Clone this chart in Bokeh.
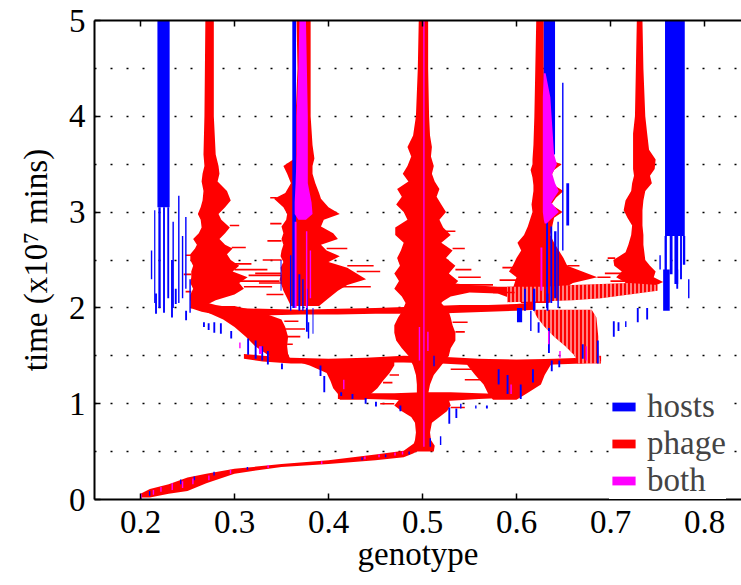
from math import pi
from bokeh.plotting import figure
from bokeh.models import Range1d, LinearAxis, FixedTicker, Legend, LegendItem
from bokeh.embed import file_html
from bokeh.resources import INLINE

# ---------------- axes ----------------
X_TICKS = [0.2, 0.3, 0.4, 0.5, 0.6, 0.7, 0.8]
Y_TICKS = [0, 1, 2, 3, 4, 5]
GRID_Y = [0.5, 1.0, 1.5, 2.0, 2.5, 3.0, 3.5, 4.0, 4.5]

# ---------------- phage (red) vertical branches: time, left genotype, right genotype -------------
P1_Y = [5.00, 4.00, 3.60, 3.48, 3.40, 3.32, 3.22, 3.12, 3.05, 2.98, 2.92, 2.84, 2.78, 2.72, 2.66, 2.62, 2.56, 2.50, 2.44, 2.38, 2.32, 2.26, 2.20, 2.14, 2.08, 2.03]
P1_L = [0.269, 0.268, 0.267, 0.268, 0.266, 0.265, 0.267, 0.266, 0.264, 0.261, 0.264, 0.265, 0.262, 0.256, 0.260, 0.258, 0.253, 0.253, 0.256, 0.254, 0.254, 0.253, 0.256, 0.253, 0.253, 0.256]
P1_R = [0.278, 0.278, 0.280, 0.283, 0.284, 0.282, 0.292, 0.296, 0.290, 0.283, 0.286, 0.295, 0.290, 0.284, 0.290, 0.298, 0.292, 0.296, 0.305, 0.298, 0.314, 0.305, 0.310, 0.300, 0.280, 0.270]

P2_Y = [5.00, 4.50, 4.00, 3.70, 3.56, 3.48, 3.40, 3.30, 3.20, 3.14, 3.05, 2.98, 2.92, 2.85, 2.78, 2.72, 2.66, 2.60, 2.54, 2.48, 2.42, 2.36, 2.30, 2.24, 2.18, 2.10, 2.02]
P2_L = [0.366, 0.367, 0.365, 0.364, 0.364, 0.352, 0.356, 0.360, 0.354, 0.342, 0.352, 0.356, 0.355, 0.350, 0.352, 0.350, 0.352, 0.350, 0.349, 0.352, 0.349, 0.350, 0.348, 0.350, 0.352, 0.356, 0.360]
P2_R = [0.381, 0.381, 0.381, 0.383, 0.385, 0.383, 0.383, 0.386, 0.390, 0.392, 0.400, 0.412, 0.395, 0.392, 0.405, 0.410, 0.392, 0.398, 0.412, 0.400, 0.420, 0.430, 0.440, 0.420, 0.410, 0.400, 0.390]

P3_Y = [5.00, 4.50, 4.00, 3.80, 3.68, 3.58, 3.48, 3.40, 3.32, 3.24, 3.16, 3.08, 3.00, 2.92, 2.84, 2.76, 2.68, 2.60, 2.52, 2.44, 2.36, 2.28, 2.20, 2.12, 2.05, 1.96, 1.90, 1.82, 1.74, 1.66, 1.58, 1.50, 1.40, 1.30, 1.20, 1.10]
P3_L = [0.496, 0.495, 0.493, 0.490, 0.484, 0.488, 0.484, 0.479, 0.485, 0.473, 0.478, 0.472, 0.480, 0.484, 0.471, 0.471, 0.480, 0.477, 0.473, 0.476, 0.470, 0.475, 0.470, 0.478, 0.482, 0.478, 0.474, 0.470, 0.470, 0.472, 0.478, 0.485, 0.490, 0.493, 0.494, 0.494]
P3_R = [0.506, 0.506, 0.507, 0.508, 0.510, 0.509, 0.512, 0.510, 0.513, 0.518, 0.515, 0.520, 0.525, 0.518, 0.522, 0.530, 0.520, 0.532, 0.525, 0.535, 0.528, 0.538, 0.530, 0.525, 0.520, 0.528, 0.530, 0.532, 0.535, 0.535, 0.530, 0.528, 0.520, 0.512, 0.508, 0.506]

P4_Y = [5.00, 4.50, 4.00, 3.70, 3.55, 3.50, 3.44, 3.36, 3.28, 3.22, 3.15, 3.08, 3.00, 2.94, 2.85, 2.76, 2.68, 2.60, 2.52, 2.44, 2.38, 2.32, 2.26, 2.20, 2.12, 2.05]
P4_L = [0.621, 0.620, 0.619, 0.618, 0.617, 0.617, 0.615, 0.617, 0.618, 0.618, 0.617, 0.616, 0.617, 0.615, 0.612, 0.608, 0.601, 0.605, 0.600, 0.596, 0.592, 0.600, 0.598, 0.596, 0.600, 0.605]
P4_R = [0.629, 0.629, 0.630, 0.631, 0.634, 0.648, 0.640, 0.636, 0.640, 0.650, 0.642, 0.637, 0.649, 0.640, 0.638, 0.636, 0.640, 0.645, 0.650, 0.654, 0.670, 0.686, 0.660, 0.650, 0.640, 0.635]

P5_Y = [5.00, 4.50, 4.00, 3.82, 3.65, 3.55, 3.45, 3.38, 3.30, 3.22, 3.12, 3.02, 2.94, 2.86, 2.76, 2.66, 2.58, 2.50, 2.44, 2.38, 2.32, 2.27, 2.22, 2.18]
P5_L = [0.728, 0.727, 0.726, 0.724, 0.724, 0.724, 0.724, 0.725, 0.723, 0.722, 0.716, 0.714, 0.718, 0.723, 0.722, 0.719, 0.716, 0.703, 0.704, 0.712, 0.706, 0.715, 0.720, 0.725]
P5_R = [0.734, 0.735, 0.737, 0.739, 0.741, 0.748, 0.747, 0.742, 0.744, 0.737, 0.735, 0.734, 0.734, 0.734, 0.735, 0.735, 0.736, 0.737, 0.742, 0.748, 0.746, 0.756, 0.745, 0.732]

TR_Y = [0.50, 0.56, 0.62, 0.70, 0.80, 0.86, 0.92, 0.98, 1.04, 1.10]
TR_L = [0.488, 0.490, 0.492, 0.493, 0.492, 0.488, 0.478, 0.470, 0.475, 0.490]
TR_R = [0.512, 0.513, 0.509, 0.508, 0.510, 0.518, 0.526, 0.530, 0.528, 0.520]

LB_Y = [1.04, 1.10, 1.16, 1.24, 1.32, 1.40, 1.46]
LB_L = [0.412, 0.410, 0.405, 0.402, 0.398, 0.380, 0.360]
LB_R = [0.440, 0.445, 0.452, 0.458, 0.465, 0.470, 0.470]

RB_Y = [1.04, 1.10, 1.20, 1.30, 1.40, 1.46]
RB_L = [0.575, 0.570, 0.565, 0.556, 0.548, 0.545]
RB_R = [0.600, 0.610, 0.626, 0.630, 0.636, 0.640]

LF_Y = [1.45, 1.52, 1.60, 1.70, 1.80, 1.88, 1.95, 2.02]
LF_L = [0.342, 0.334, 0.322, 0.312, 0.300, 0.288, 0.272, 0.258]
LF_R = [0.360, 0.357, 0.356, 0.357, 0.354, 0.350, 0.330, 0.300]

RF_Y = [1.42, 1.50, 1.60, 1.70, 1.80, 1.90, 1.98]
RF_L = [0.665, 0.662, 0.652, 0.640, 0.630, 0.622, 0.618]
RF_R = [0.690, 0.688, 0.687, 0.687, 0.686, 0.685, 0.680]

# ---------------- phage (red) horizontal bands: genotype, lower time, upper time ----------------
B0_X = [0.200, 0.210, 0.230, 0.250, 0.270, 0.300, 0.350, 0.400, 0.450, 0.480, 0.490, 0.497]
B0_B = [0.02, 0.02, 0.06, 0.09, 0.17, 0.27, 0.34, 0.37, 0.41, 0.44, 0.48, 0.52]
B0_T = [0.06, 0.11, 0.16, 0.23, 0.27, 0.32, 0.37, 0.41, 0.47, 0.51, 0.58, 0.62]

C1_X = [0.410, 0.440, 0.470, 0.500, 0.530, 0.560, 0.585]
C1_B = [1.05, 1.05, 1.04, 1.02, 1.03, 1.05, 1.06]
C1_T = [1.10, 1.11, 1.11, 1.12, 1.12, 1.11, 1.10]

C15_X = [0.310, 0.330, 0.360, 0.400, 0.440, 0.480, 0.520, 0.560, 0.600, 0.640, 0.670, 0.690]
C15_B = [1.47, 1.44, 1.42, 1.42, 1.43, 1.43, 1.42, 1.40, 1.40, 1.41, 1.42, 1.44]
C15_T = [1.52, 1.50, 1.48, 1.47, 1.48, 1.50, 1.49, 1.47, 1.46, 1.47, 1.48, 1.50]

C2_X = [0.253, 0.265, 0.280, 0.300, 0.330, 0.370, 0.410, 0.450, 0.480, 0.510, 0.540, 0.570, 0.600, 0.620]
C2_B = [2.00, 1.96, 1.93, 1.92, 1.92, 1.93, 1.93, 1.94, 1.94, 1.94, 1.95, 1.96, 1.97, 1.98]
C2_T = [2.14, 2.07, 2.03, 2.00, 1.99, 1.98, 1.99, 2.00, 2.01, 2.02, 2.03, 2.03, 2.04, 2.06]

C2A_X = [0.510, 0.530, 0.550, 0.580, 0.600]
C2A_B = [2.00, 2.12, 2.16, 2.15, 2.08]
C2A_T = [2.30, 2.26, 2.24, 2.22, 2.22]

C2B_X = [0.590, 0.630, 0.660, 0.690, 0.720, 0.750]
C2B_B = [2.06, 2.07, 2.08, 2.10, 2.14, 2.18]
C2B_T = [2.22, 2.22, 2.24, 2.25, 2.26, 2.24]

# ---------------- phage streaks: time, from, to ----------------
ST_Y = [2.46, 2.40, 2.34, 2.28, 2.22, 2.63, 2.86, 2.55, 2.35, 2.17,
        3.15, 2.88, 2.70, 2.50, 2.36, 2.26, 2.14, 2.44, 2.38, 2.22, 2.62,
        2.40, 2.32, 2.24, 2.62, 2.80, 2.42, 2.29, 2.16, 2.44, 2.32,
        2.52, 2.36, 2.28, 1.70, 1.78, 1.62, 1.86, 1.75, 1.85, 1.30, 1.22, 1.36, 1.25, 0.96, 1.00]
ST_X0 = [0.300, 0.300, 0.315, 0.305, 0.310, 0.297, 0.295, 0.248, 0.246, 0.248,
         0.338, 0.338, 0.335, 0.330, 0.322, 0.326, 0.334, 0.420, 0.430, 0.410, 0.398,
         0.535, 0.538, 0.530, 0.532, 0.522, 0.585, 0.582, 0.575, 0.654, 0.686,
         0.697, 0.694, 0.700, 0.356, 0.354, 0.356, 0.353, 0.535, 0.532, 0.465, 0.458, 0.530, 0.545, 0.530, 0.455]
ST_X1 = [0.318, 0.335, 0.350, 0.348, 0.340, 0.312, 0.305, 0.254, 0.254, 0.254,
         0.345, 0.350, 0.350, 0.350, 0.350, 0.350, 0.352, 0.448, 0.455, 0.445, 0.420,
         0.552, 0.562, 0.575, 0.545, 0.535, 0.596, 0.600, 0.598, 0.667, 0.700,
         0.705, 0.712, 0.715, 0.370, 0.375, 0.362, 0.368, 0.545, 0.548, 0.475, 0.468, 0.556, 0.565, 0.545, 0.470]

# ---------------- hosts (blue) bars: genotype from/to, time from/to ----------------
H_X0 = [0.2180, 0.3615, 0.6290, 0.6315, 0.6360, 0.6400, 0.6435, 0.7580,
        0.2145, 0.2190, 0.2240, 0.2285, 0.2400, 0.2520, 0.2110, 0.2340, 0.2440, 0.2475,
        0.3590, 0.3680, 0.3720, 0.3760, 0.3830, 0.3490, 0.3780,
        0.6485, 0.6530, 0.6080, 0.6180, 0.6320,
        0.7575, 0.7630, 0.7680, 0.7740, 0.7770, 0.7520, 0.7825,
        0.2155, 0.2325, 0.2365, 0.2475, 0.2665, 0.2715, 0.2775, 0.2845, 0.2955, 0.3135, 0.3215,
        0.3285, 0.3345, 0.3495, 0.3905, 0.3945, 0.4125, 0.4245, 0.4385, 0.4495, 0.4755,
        0.5275, 0.5350, 0.5400, 0.5560, 0.5675, 0.5800, 0.5895, 0.6035, 0.6165, 0.6365, 0.6445,
        0.6695, 0.6855, 0.7025, 0.7075, 0.7155, 0.7280, 0.7380, 0.6005, 0.6145, 0.6175, 0.6225,
        0.6335, 0.5115, 0.7560, 0.7700,
        0.2090, 0.2420, 0.2565, 0.2775, 0.3130, 0.4350, 0.4600, 0.4850, 0.5075, 0.5185]
H_X1 = [0.2310, 0.3655, 0.6410, 0.6335, 0.6380, 0.6425, 0.6450, 0.7790,
        0.2158, 0.2215, 0.2260, 0.2305, 0.2415, 0.2535, 0.2125, 0.2355, 0.2455, 0.2490,
        0.3605, 0.3700, 0.3735, 0.3780, 0.3840, 0.3500, 0.3795,
        0.6500, 0.6560, 0.6100, 0.6200, 0.6340,
        0.7600, 0.7660, 0.7720, 0.7760, 0.7795, 0.7535, 0.7840,
        0.2175, 0.2345, 0.2385, 0.2495, 0.2685, 0.2735, 0.2795, 0.2865, 0.2975, 0.3155, 0.3235,
        0.3305, 0.3365, 0.3515, 0.3925, 0.3965, 0.4145, 0.4265, 0.4405, 0.4515, 0.4775,
        0.5295, 0.5370, 0.5415, 0.5575, 0.5695, 0.5820, 0.5915, 0.6055, 0.6185, 0.6385, 0.6465,
        0.6715, 0.6875, 0.7045, 0.7095, 0.7170, 0.7300, 0.7400, 0.6060, 0.6160, 0.6190, 0.6245,
        0.6355, 0.5130, 0.7630, 0.7720,
        0.2105, 0.2435, 0.2580, 0.2790, 0.3145, 0.4365, 0.4615, 0.4865, 0.5090, 0.5200]
H_Y0 = [3.05, 2.00, 3.60, 2.00, 2.05, 2.10, 2.00, 2.75,
        2.05, 2.00, 1.95, 2.10, 2.05, 1.95, 2.30, 2.00, 2.10, 2.20,
        1.97, 1.97, 1.97, 1.75, 1.73, 2.18, 1.68,
        2.60, 2.86, 1.97, 1.97, 1.97,
        2.12, 2.35, 2.25, 2.30, 2.45, 2.40, 2.10,
        1.94, 1.90, 2.04, 1.87, 1.80, 1.77, 1.74, 1.73, 1.68, 1.51, 1.47,
        1.45, 1.41, 1.36, 1.29, 1.12, 1.08, 1.05, 1.00, 0.97, 0.92,
        0.79, 0.85, 0.95, 0.95, 0.95, 1.20, 1.10, 1.05, 1.22, 1.34, 1.38,
        1.47, 1.42, 1.70, 1.76, 1.80, 1.85, 1.88, 1.85, 1.76, 1.97, 1.74,
        1.53, 1.39, 1.97, 2.20,
        0.04, 0.16, 0.20, 0.25, 0.31, 0.41, 0.44, 0.47, 0.55, 0.57]
H_Y1 = [5.00, 5.00, 5.00, 2.90, 2.85, 2.80, 2.90, 5.00,
        3.02, 3.05, 3.05, 3.05, 3.17, 2.30, 2.60, 2.90, 2.75, 2.95,
        2.55, 2.35, 2.30, 2.20, 2.00, 2.50, 1.85,
        4.35, 3.30, 2.20, 2.20, 2.15,
        2.75, 2.75, 2.75, 2.75, 2.75, 2.55, 2.30,
        2.15, 2.50, 2.20, 1.97, 1.85, 1.84, 1.85, 1.84, 1.76, 1.68, 1.66,
        1.60, 1.55, 1.42, 1.40, 1.29, 1.12, 1.10, 1.06, 1.02, 0.98,
        0.96, 0.95, 1.00, 0.98, 0.98, 1.36, 1.30, 1.20, 1.36, 1.45, 1.45,
        1.62, 1.66, 1.86, 1.85, 1.86, 2.00, 2.00, 2.00, 1.97, 2.20, 1.85,
        1.79, 1.50, 2.40, 2.40,
        0.09, 0.21, 0.24, 0.29, 0.34, 0.44, 0.47, 0.50, 0.64, 0.66]

# ---------------- both (magenta) ----------------
M2_Y = [5.00, 4.50, 4.00, 3.60, 3.30, 3.10, 2.98, 2.92]
M2_L = [0.369, 0.368, 0.366, 0.366, 0.365, 0.364, 0.364, 0.368]
M2_R = [0.376, 0.377, 0.378, 0.378, 0.378, 0.382, 0.383, 0.376]

M4_Y = [4.45, 4.20, 3.90, 3.60, 3.50, 3.40, 3.30, 3.22, 3.10, 3.00, 2.92, 2.88]
M4_L = [0.629, 0.628, 0.628, 0.628, 0.628, 0.628, 0.628, 0.628, 0.628, 0.628, 0.629, 0.630]
M4_R = [0.631, 0.636, 0.638, 0.640, 0.643, 0.638, 0.641, 0.645, 0.637, 0.645, 0.636, 0.632]

MG_X0 = [0.5008, 0.3640, 0.3760, 0.3800, 0.6255,
         0.2000, 0.2130, 0.2210, 0.2330, 0.2440, 0.2550, 0.2720, 0.2950, 0.3350, 0.3920, 0.4380, 0.4530, 0.4700, 0.4780,
         0.3050, 0.3260, 0.4155, 0.4960, 0.5050, 0.5935, 0.6335, 0.6455, 0.6735]
MG_X1 = [0.5022, 0.3660, 0.3775, 0.3815, 0.6275,
         0.2015, 0.2145, 0.2225, 0.2345, 0.2455, 0.2565, 0.2735, 0.2965, 0.3365, 0.3935, 0.4395, 0.4545, 0.4715, 0.4795,
         0.3065, 0.3290, 0.4170, 0.4975, 0.5065, 0.5950, 0.6350, 0.6470, 0.6750]
MG_Y0 = [0.55, 2.00, 2.00, 2.10, 2.18,
         0.00, 0.05, 0.08, 0.10, 0.12, 0.16, 0.20, 0.27, 0.33, 0.37, 0.42, 0.44, 0.46, 0.47,
         1.58, 1.52, 1.15, 1.45, 1.55, 1.10, 1.62, 1.48, 1.45]
MG_Y1 = [5.00, 2.90, 2.80, 2.60, 2.63,
         0.06, 0.10, 0.13, 0.17, 0.19, 0.22, 0.25, 0.31, 0.36, 0.40, 0.45, 0.47, 0.49, 0.50,
         1.64, 1.60, 1.25, 1.80, 1.75, 1.20, 1.76, 1.55, 1.60]

LEGEND_LABELS = ["hosts", "phage", "both"]

BLUE, RED, MAG = "#0000ff", "#ff0000", "#ff00ff"
FONT = "Liberation Serif"
FS = "33px"


def vprofile(ys, ls, rs):
    return list(ls) + list(rs)[::-1], list(ys) + list(ys)[::-1]


def hband(xs, bs, ts):
    return list(xs) + list(xs)[::-1], list(bs) + list(ts)[::-1]


red_solid = [vprofile(P1_Y, P1_L, P1_R), vprofile(P2_Y, P2_L, P2_R), vprofile(P3_Y, P3_L, P3_R),
             vprofile(P4_Y, P4_L, P4_R), vprofile(P5_Y, P5_L, P5_R), vprofile(TR_Y, TR_L, TR_R),
             vprofile(LB_Y, LB_L, LB_R), vprofile(RB_Y, RB_L, RB_R), vprofile(LF_Y, LF_L, LF_R),
             hband(B0_X, B0_B, B0_T), hband(C1_X, C1_B, C1_T), hband(C15_X, C15_B, C15_T),
             hband(C2_X, C2_B, C2_T), hband(C2A_X, C2A_B, C2A_T)]
red_hatch = [vprofile(RF_Y, RF_L, RF_R), hband(C2B_X, C2B_B, C2B_T)]
mag_patches = [vprofile(M2_Y, M2_L, M2_R), vprofile(M4_Y, M4_L, M4_R)]

p = figure(width=741, height=585, x_range=Range1d(0.15106, 0.83936), y_range=Range1d(0, 5),
           output_backend="svg", toolbar_location=None,
           min_border_left=94, min_border_right=0, min_border_top=20, min_border_bottom=86)
p.outline_line_color = None
p.background_fill_color = "white"
p.xgrid.visible = False
p.ygrid.ticker = FixedTicker(ticks=GRID_Y)
p.ygrid.grid_line_color = "black"
p.ygrid.grid_line_dash = "2 14"
p.ygrid.grid_line_width = 1.6

red_r = p.patches(xs=[a for a, b in red_solid], ys=[b for a, b in red_solid],
                  fill_color=RED, line_color=None)
p.patches(xs=[a for a, b in red_hatch], ys=[b for a, b in red_hatch],
          fill_color=RED, line_color=None, hatch_pattern="|", hatch_color="white",
          hatch_scale=4, hatch_weight=1)
p.segment(x0=ST_X0, y0=ST_Y, x1=ST_X1, y1=ST_Y, line_color=RED, line_width=1.6)
host_r = p.quad(left=H_X0, right=H_X1, bottom=H_Y0, top=H_Y1, fill_color=BLUE, line_color=None)
mag_r = p.patches(xs=[a for a, b in mag_patches], ys=[b for a, b in mag_patches],
                  fill_color=MAG, line_color=None)
p.quad(left=MG_X0, right=MG_X1, bottom=MG_Y0, top=MG_Y1, fill_color=MAG, line_color=None)

xa = p.below[0]
ya = p.left[0]
xa.ticker = FixedTicker(ticks=X_TICKS)
ya.ticker = FixedTicker(ticks=Y_TICKS)
for ax in (xa, ya):
    ax.axis_line_width = 2
    ax.axis_line_color = "black"
    ax.major_tick_in = 6
    ax.major_tick_out = 0
    ax.minor_tick_in = 0
    ax.minor_tick_out = 0
    ax.major_tick_line_width = 1.5
    ax.major_tick_line_color = "black"
    ax.major_label_text_font = FONT
    ax.major_label_text_font_size = FS
    ax.major_label_text_color = "black"
    ax.axis_label_text_font = FONT
    ax.axis_label_text_font_size = FS
    ax.axis_label_text_font_style = "normal"
    ax.axis_label_text_color = "black"
ya.major_label_standoff = 9
xa.major_label_standoff = 11
ya.axis_label = "time (x10\u2077 mins)"
ya.axis_label_standoff = 12
xa.axis_label = "genotype"
xa.axis_label_standoff = 0

# top frame line (no ticks / labels) and inward top ticks
top = LinearAxis(ticker=FixedTicker(ticks=[]), axis_line_width=2, axis_line_color="black",
                 major_tick_in=0, major_tick_out=0, minor_tick_in=0, minor_tick_out=0)
p.add_layout(top, "above")
p.scatter(x=X_TICKS, y=[Y_TICKS[-1]] * len(X_TICKS), marker="dash", angle=pi / 2, size=12,
          line_color="black", line_width=1.5)

legend = Legend(items=[LegendItem(label=LEGEND_LABELS[0], renderers=[host_r]),
                       LegendItem(label=LEGEND_LABELS[1], renderers=[red_r]),
                       LegendItem(label=LEGEND_LABELS[2], renderers=[mag_r])],
                location=(515, 0), glyph_width=29, glyph_height=11, label_standoff=9,
                label_text_font=FONT, label_text_font_size=FS, label_height=26,
                spacing=-9, padding=6, margin=0, border_line_color=None,
                background_fill_color="white", background_fill_alpha=1.0)
p.add_layout(legend)

open("out.html", "w").write(file_html(p, INLINE))
